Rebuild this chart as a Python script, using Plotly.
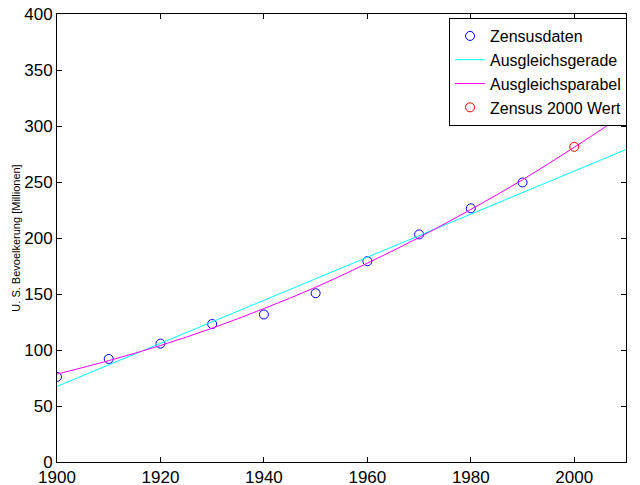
import plotly.graph_objects as go

years = [1900, 1910, 1920, 1930, 1940, 1950, 1960, 1970, 1980, 1990]
census = [76.0, 92.0, 105.7, 123.2, 131.7, 150.7, 179.3, 203.2, 226.5, 249.6]

line_x = [1900, 2010]
line_y = [67.5, 279.0]

para_x = [1900, 1910, 1920, 1930, 1940, 1950, 1960, 1970, 1980, 1990, 2000, 2010]
para_y = [78.5, 90.5, 104.0, 119.5, 137.0, 156.0, 177.5, 200.5, 225.5, 252.0, 281.0, 311.5]

y2000_x = [2000]
y2000_y = [281.4]

xticks = [1900, 1920, 1940, 1960, 1980, 2000]
yticks = [0, 50, 100, 150, 200, 250, 300, 350, 400]

FONT = "Liberation Sans, Arial, sans-serif"

fig = go.Figure()
fig.add_trace(go.Scatter(x=years, y=census, mode="markers", name="Zensusdaten",
                         marker=dict(symbol="circle-open", size=9, color="#0000ff", line=dict(width=1))))
fig.add_trace(go.Scatter(x=line_x, y=line_y, mode="lines", name="Ausgleichsgerade",
                         line=dict(color="#00ffff", width=1)))
fig.add_trace(go.Scatter(x=para_x, y=para_y, mode="lines", name="Ausgleichsparabel",
                         line=dict(color="#ff00ff", width=1, shape="spline")))
fig.add_trace(go.Scatter(x=y2000_x, y=y2000_y, mode="markers", name="Zensus 2000 Wert",
                         marker=dict(symbol="circle-open", size=9, color="#ff0000", line=dict(width=1))))

axis_common = dict(showline=True, linecolor="black", linewidth=1, mirror="allticks",
                   ticks="inside", ticklen=5, tickcolor="black", showgrid=False, zeroline=False,
                   automargin=False, ticklabeloverflow="allow",
                   tickfont=dict(family=FONT, size=17, color="black"))

fig.update_xaxes(range=[1900, 2010], tickvals=xticks, **axis_common)
fig.update_yaxes(range=[0, 400], tickvals=yticks,
                 title=dict(text="U. S. Bevoelkerung [Millionen]",
                            font=dict(family=FONT, size=11, color="black"),
                            standoff=1),
                 **axis_common)

fig.update_layout(
    width=640, height=485,
    margin=dict(l=57, r=14, t=14, b=23, autoexpand=False),
    paper_bgcolor="white", plot_bgcolor="white",
    showlegend=True,
    legend=dict(x=0.689, y=0.991, xanchor="left", yanchor="top",
                bgcolor="white", bordercolor="black", borderwidth=1,
                font=dict(family=FONT, size=16, color="black"),
                tracegroupgap=0, itemwidth=30),
)

fig.write_html("out.html",
               config={"displayModeBar": False},
               post_script="document.body.style.margin='0px';document.body.style.overflow='hidden';")
